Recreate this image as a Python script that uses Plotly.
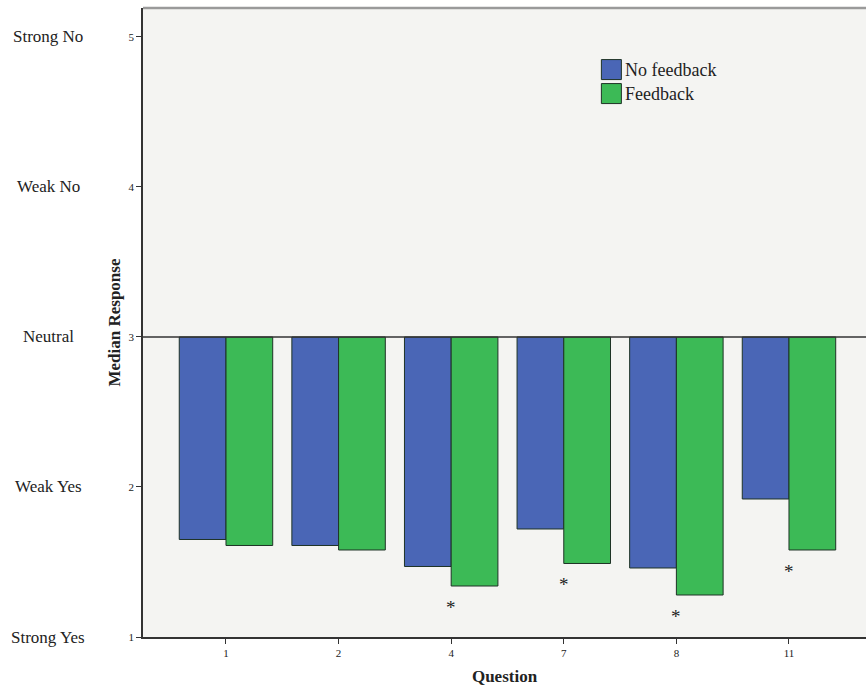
import plotly.graph_objects as go

questions = ["1", "2", "4", "7", "8", "11"]
no_feedback = [1.65, 1.61, 1.47, 1.72, 1.46, 1.92]
feedback = [1.61, 1.58, 1.34, 1.49, 1.28, 1.58]
significant = [False, False, True, True, True, True]
series_names = ["No feedback", "Feedback"]
tick_vals = [1, 2, 3, 4, 5]
tick_words = ["Strong Yes", "Weak Yes", "Neutral", "Weak No", "Strong No"]

NEUTRAL = 3
BLUE = "#4a66b6"
GREEN = "#3cba56"
EDGE = "#1e3326"
FONT = "Liberation Serif"

fig = go.Figure()
for name, vals, col in [(series_names[0], no_feedback, BLUE), (series_names[1], feedback, GREEN)]:
    fig.add_trace(go.Bar(
        x=questions, y=[v - NEUTRAL for v in vals], base=NEUTRAL, name=name,
        marker=dict(color=col, line=dict(color=EDGE, width=1)),
        showlegend=False,
    ))

# significance asterisks (category index positions)
for i, (v, s) in enumerate(zip(feedback, significant)):
    if s:
        fig.add_annotation(x=i, y=v, xref="x", yref="y", text="*", showarrow=False,
                           yanchor="top", yshift=-9, font=dict(family=FONT, size=19, color="#222"))

# word labels on the y axis
for tv, w in zip(tick_vals, tick_words):
    fig.add_annotation(x=0, y=tv, xref="paper", yref="y", text=w, showarrow=False,
                       xanchor="center", xshift=-95, font=dict(family=FONT, size=17, color="#222"))

# neutral reference line
fig.add_shape(type="line", xref="paper", yref="y", x0=0, x1=1, y0=NEUTRAL, y1=NEUTRAL,
              line=dict(color="#333", width=1.5))
# top border
fig.add_shape(type="line", xref="paper", yref="paper", x0=0, x1=1, y0=1, y1=1,
              line=dict(color="#9a9a9a", width=2.5))

# manual legend
lx0, ly0 = 0.634, 0.918
box_w, box_h = 20 / 723, 20 / 629
for i, (name, col) in enumerate([(series_names[0], BLUE), (series_names[1], GREEN)]):
    y_top = ly0 - i * (24 / 629)
    fig.add_shape(type="rect", xref="paper", yref="paper",
                  x0=lx0, x1=lx0 + box_w, y0=y_top - box_h, y1=y_top,
                  fillcolor=col, line=dict(color=EDGE, width=1))
    fig.add_annotation(x=lx0 + box_w, y=y_top - box_h / 2, xref="paper", yref="paper",
                       text=name, showarrow=False, xanchor="left", yanchor="middle", xshift=2,
                       font=dict(family=FONT, size=18, color="#222"))

fig.update_layout(
    width=867, height=687,
    margin=dict(l=143, r=1, t=8, b=50),
    paper_bgcolor="white", plot_bgcolor="#f4f4f2",
    barmode="group", bargap=0.17, bargroupgap=0,
    font=dict(family=FONT, color="#222"),
    xaxis=dict(
        type="category", range=[-0.737, 5.684],
        showline=True, linecolor="#333", linewidth=1.5,
        ticks="outside", ticklen=5, tickcolor="#333", tickwidth=1,
        tickfont=dict(size=11), showgrid=False, zeroline=False,
        title=dict(text="<b>Question</b>", font=dict(size=17), standoff=12),
    ),
    yaxis=dict(
        range=[1, 5.193], tickvals=tick_vals,
        showline=True, linecolor="#333", linewidth=1.5,
        ticks="outside", ticklen=5, tickcolor="#333", tickwidth=1,
        tickfont=dict(size=11), showgrid=False, zeroline=False,
        title=dict(text="<b>Median Response</b>", font=dict(size=17), standoff=4),
    ),
)

fig.write_html("out.html", config={"displayModeBar": False},
               post_script="document.body.style.margin='0';")
